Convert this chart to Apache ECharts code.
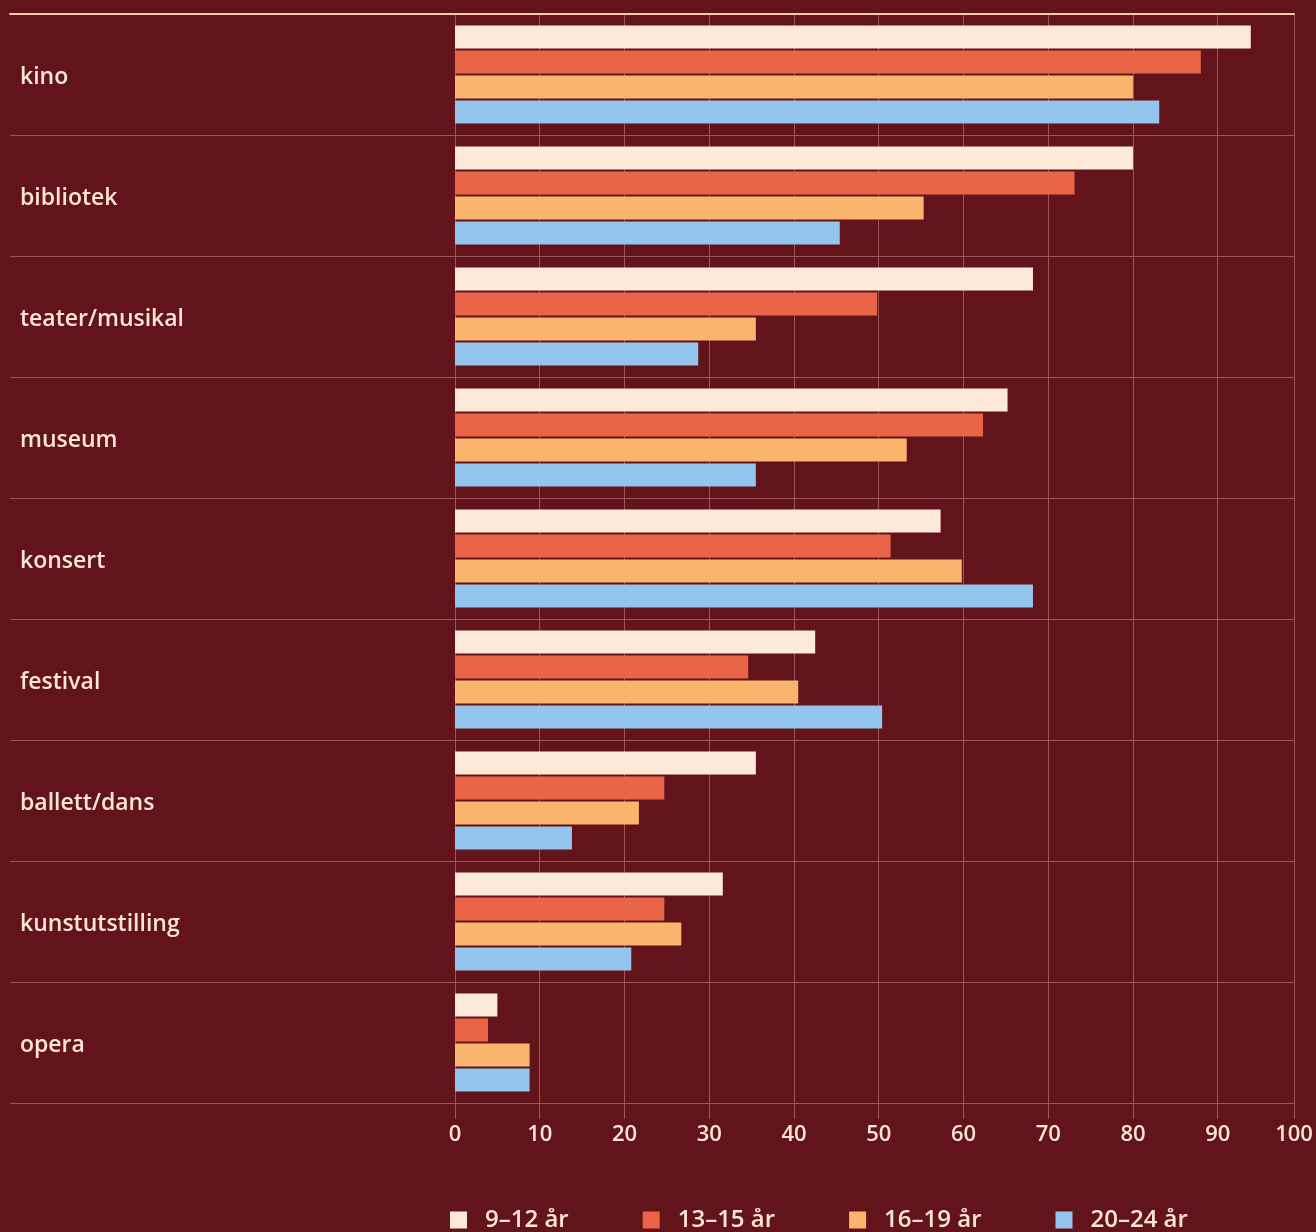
<!DOCTYPE html>
<html>
<head>
<meta charset="utf-8">
<script src="https://cdn.jsdelivr.net/npm/echarts@6/dist/echarts.min.js"></script>
<style>
html,body{margin:0;padding:0;background:#63131a;}
#chart{width:1316px;height:1232px;}
</style>
</head>
<body>
<div id="chart"></div>
<script>
const categories = ['kino','bibliotek','teater/musikal','museum','konsert','festival','ballett/dans','kunstutstilling','opera'];
const seriesNames = ['9–12 år','13–15 år','16–19 år','20–24 år'];
const age9_12  = [93.9, 80.0, 68.2, 65.2, 57.3, 42.5, 35.5, 31.6, 5.0];
const age13_15 = [88.0, 73.1, 49.8, 62.3, 51.4, 34.6, 24.7, 24.7, 3.9];
const age16_19 = [80.0, 55.3, 35.5, 53.3, 59.8, 40.5, 21.7, 26.7, 8.8];
const age20_24 = [83.1, 45.4, 28.7, 35.5, 68.2, 50.4, 13.8, 20.8, 8.8];
const tickLabels = ['0','10','20','30','40','50','60','70','80','90','100'];

const colors = ['#fee9d8','#ea6547','#f9b56e','#94c5ec'];
const textColor = '#fde6d3';
const gridColor = '#9a5759';
const font = 'Open Sans';

const chart = echarts.init(document.getElementById('chart'));
const seriesData = [age9_12, age13_15, age16_19, age20_24];

chart.setOption({
  backgroundColor: '#63131a',
  animation: false,
  color: colors,
  textStyle: { fontFamily: font },
  grid: [
    { left: 10, right: 22, top: 14, bottom: 129 },
    { left: 455, right: 22, top: 14, bottom: 129 }
  ],
  legend: {
    left: 450, top: 1208, padding: 0,
    itemWidth: 17, itemHeight: 17, itemGap: 74,
    icon: 'rect',
    data: seriesNames,
    textStyle: { color: textColor, fontSize: 24, fontWeight: 600, fontFamily: font, padding: [0, 0, 0, 13] }
  },
  xAxis: [
    {
      gridIndex: 0, type: 'value', position: 'top', min: 0, max: 1,
      axisLine: { show: true, lineStyle: { color: '#f6cca3', width: 2 } },
      axisTick: { show: false }, axisLabel: { show: false }, splitLine: { show: false }
    },
    {
      gridIndex: 1, type: 'value', min: 0, max: 99, interval: 10,
      axisLine: { show: true, lineStyle: { color: gridColor, width: 1 } },
      axisTick: { show: true, length: 16, lineStyle: { color: gridColor, width: 1 } },
      axisLabel: {
        color: textColor, fontSize: 22, fontWeight: 600, margin: 21, fontFamily: font,
        formatter: (v, i) => tickLabels[i]
      },
      splitLine: { show: true, lineStyle: { color: gridColor, width: 1 } }
    }
  ],
  yAxis: [
    {
      gridIndex: 0, type: 'category', data: categories, inverse: true,
      axisLine: { show: false }, axisTick: { show: false },
      axisLabel: {
        inside: true, margin: 10, color: textColor, fontSize: 23, fontWeight: 600, fontFamily: font,
        formatter: v => '{c|' + v + '}',
        rich: { c: { color: textColor, fontSize: 23, fontWeight: 600, fontFamily: font, padding: [6, 0, 0, 0] } }
      },
      splitLine: { show: true, lineStyle: { color: gridColor, width: 1 } }
    },
    {
      gridIndex: 1, type: 'category', data: categories, inverse: true, show: false
    }
  ],
  series: seriesNames.map((name, i) => ({
    name, type: 'bar', xAxisIndex: 1, yAxisIndex: 1,
    data: seriesData[i],
    barWidth: 23, barGap: '8.7%',
    itemStyle: { color: colors[i] }
  }))
});
</script>
</body>
</html>
